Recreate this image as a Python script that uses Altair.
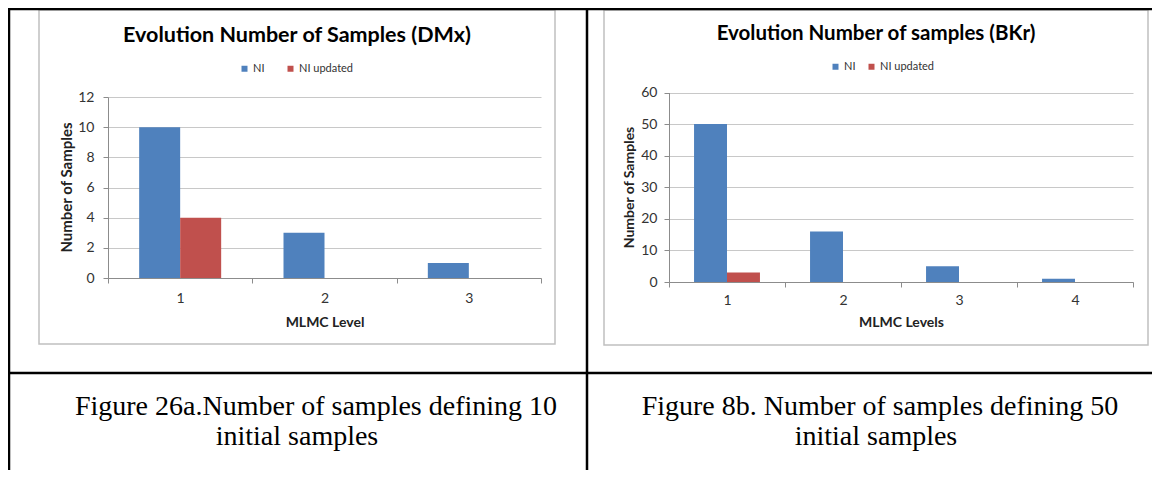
import altair as alt
import pandas as pd

# ---------------- data ----------------
series = ["NI", "NI updated"]
colors = ["#4F81BD", "#C0504D"]

levels_a = ["1", "2", "3"]
ni_a = [10, 3, 1]
ni_upd_a = [4, 0, 0]
yticks_a = [0, 2, 4, 6, 8, 10, 12]

levels_b = ["1", "2", "3", "4"]
ni_b = [50, 16, 5, 1]
ni_upd_b = [3, 0, 0, 0]
yticks_b = [0, 10, 20, 30, 40, 50, 60]

title_a = "Evolution Number of Samples (DMx)"
title_b = "Evolution Number of samples (BKr)"
xtitle_a = "MLMC Level"
xtitle_b = "MLMC Levels"
ytitle = "Number of Samples"
caption_a = ["Figure 26a.Number of samples defining 10", "initial samples"]
caption_b = ["Figure 8b. Number of samples defining 50", "initial samples"]

# ---------------- layout helpers ----------------
W, H = 1144, 462
M = 8


def P(v):
    return v - M


def panel(levels, ni, upd, ymax, yticks, x0, x1, y0, y1, xtitle,
          ylab_pad, xlab_pad, ytitle_x, ytitle_y, xtitle_y,
          leg_x, leg_y, col_pad, ytitle_size):
    df = pd.DataFrame({
        "level": levels * 2,
        "series": [series[0]] * len(levels) + [series[1]] * len(levels),
        "value": ni + upd,
    })
    return alt.Chart(df).mark_bar().encode(
        x=alt.X(
            "level:N", sort=levels,
            scale=alt.Scale(domain=levels, range=[P(x0), P(x1)],
                            paddingInner=0, paddingOuter=0),
            axis=alt.Axis(orient="bottom", offset=P(y0) - H, tickBand="extent",
                          title=xtitle, titleX=(P(x0) + P(x1)) / 2,
                          titleY=xtitle_y - y0, titleBaseline="middle",
                          labelAngle=0, labelPadding=xlab_pad, grid=False),
        ),
        xOffset=alt.XOffset(
            "series:N", sort=series,
            scale=alt.Scale(domain=series, paddingInner=0, paddingOuter=0.76),
        ),
        y=alt.Y(
            "value:Q",
            scale=alt.Scale(domain=[0, ymax], range=[P(y0), P(y1)], nice=False),
            axis=alt.Axis(orient="left", offset=-P(x0), values=yticks,
                          title=ytitle, titleX=P(ytitle_x) - P(x0),
                          titleY=P(ytitle_y), titleBaseline="middle",
                          titleFontSize=ytitle_size,
                          labelPadding=ylab_pad, grid=True),
        ),
        color=alt.Color(
            "series:N", sort=series,
            scale=alt.Scale(domain=series, range=colors),
            legend=alt.Legend(orient="none", legendX=P(leg_x), legendY=P(leg_y),
                              direction="horizontal", title=None,
                              symbolType="square", symbolSize=36,
                              symbolStrokeWidth=0, labelFont="Lato",
                              labelFontSize=11, labelColor="#333333",
                              labelOffset=3, columnPadding=col_pad, padding=0),
        ),
    )


bars_a = panel(levels_a, ni_a, ni_upd_a, 12, yticks_a, 108, 541, 278, 97,
               xtitle_a, 9, 8, 66, 187, 322, 239, 63, 20, 15)
bars_b = panel(levels_b, ni_b, ni_upd_b, 60, yticks_b, 669, 1133, 282, 92.5,
               xtitle_b, 7, 6, 629, 187, 322, 830, 61, 10, 14)

base = alt.Chart(pd.DataFrame({"k": [0]}))

# chart image frames (light grey)
frame_a = base.mark_rect(fill=None, stroke="#c0c0c0", strokeWidth=1.5).encode(
    x=alt.value(P(39)), x2=alt.value(P(555)), y=alt.value(P(10)), y2=alt.value(P(344)))
frame_b = base.mark_rect(fill=None, stroke="#c0c0c0", strokeWidth=1.5).encode(
    x=alt.value(P(604)), x2=alt.value(P(1148)), y=alt.value(P(10)), y2=alt.value(P(345)))

# table lines (black)
rule_top = base.mark_rule(color="black", strokeWidth=2.5).encode(
    x=alt.value(0), x2=alt.value(W), y=alt.value(1))
rule_left = base.mark_rule(color="black", strokeWidth=2.5).encode(
    x=alt.value(1), y=alt.value(0), y2=alt.value(H))
rule_mid = base.mark_rule(color="black", strokeWidth=2.5).encode(
    x=alt.value(P(587)), y=alt.value(0), y2=alt.value(H))
rule_h = base.mark_rule(color="black", strokeWidth=2.5).encode(
    x=alt.value(0), x2=alt.value(W), y=alt.value(P(373)))


def text(s, x, y, size, font, weight="normal", color="black"):
    return base.mark_text(font=font, fontSize=size, fontWeight=weight,
                          color=color, align="center", baseline="middle").encode(
        x=alt.value(P(x)), y=alt.value(P(y)), text=alt.value(s))


t_a = text(title_a, 297, 36, 21.5, "Lato", "bold")
t_b = text(title_b, 876, 34, 20.5, "Lato", "bold")
c_a1 = text(caption_a[0], 316, 407, 28, "Liberation Serif")
c_a2 = text(caption_a[1], 297, 437, 28, "Liberation Serif")
c_b1 = text(caption_b[0], 880, 407, 28, "Liberation Serif")
c_b2 = text(caption_b[1], 876, 437, 28, "Liberation Serif")

chart = alt.layer(
    frame_a, frame_b, rule_top, rule_left, rule_mid, rule_h,
    bars_a, bars_b, t_a, t_b, c_a1, c_a2, c_b1, c_b2,
).resolve_scale(
    x="independent", y="independent", color="independent", xOffset="independent"
).properties(
    width=W, height=H, padding=0,
    autosize=alt.AutoSizeParams(type="none"),
    background="white",
).configure_view(
    stroke=None
).configure_axis(
    domainColor="#8c8c8c", tickColor="#8c8c8c", tickSize=5, domainWidth=1,
    labelFont="Lato", labelFontSize=14, labelColor="#333333",
    titleFont="Lato", titleFontSize=14, titleFontWeight="bold", titleColor="#222222",
    gridColor="#c8c8c8", gridWidth=1,
)

chart.save("out.html", embed_options={"renderer": "svg", "actions": False})
